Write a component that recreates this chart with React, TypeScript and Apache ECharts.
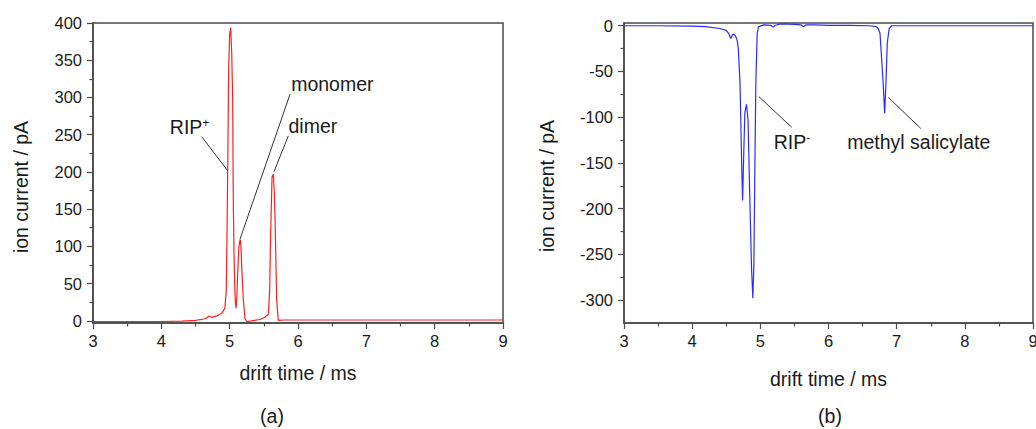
import React, { useEffect, useRef } from 'react';
import * as echarts from 'echarts';

// ---------- data ----------
// (a) positive mode spectrum
const redTime = [
  3.0, 3.5, 4.0, 4.3, 4.5, 4.6, 4.65, 4.7, 4.74, 4.81, 4.885, 4.93, 4.95, 4.96, 4.971, 4.986,
  5.0, 5.015, 5.03, 5.044, 5.053, 5.063, 5.073, 5.083, 5.093, 5.103, 5.112, 5.132, 5.145, 5.156,
  5.168, 5.18, 5.2, 5.224, 5.249, 5.3, 5.44, 5.517, 5.566, 5.585, 5.6, 5.62, 5.639, 5.652, 5.664,
  5.688, 5.712, 5.8, 6.0, 7.0, 8.0, 9.0,
];
const redCurrent = [
  -1, -1, -1, -0.5, 0.5, 2, 3, 6.5, 4.5, 6.5, 10, 17, 40, 110, 201, 341,
  385, 394, 360, 297, 162, 95, 50, 25, 17, 28, 50, 95, 106, 109,
  95, 64, 28, 3, -1, -0.5, 1.7, 4.8, 9, 40, 117, 193, 197, 175, 139,
  27, 0.5, 1, 1, 1, 1, 1,
];

// (b) negative mode spectrum
const blueTime = [
  3.0, 3.5, 4.0, 4.2, 4.4, 4.5, 4.54, 4.565, 4.59, 4.61, 4.64, 4.66, 4.677, 4.702, 4.727, 4.74,
  4.758, 4.773, 4.797, 4.82, 4.846, 4.871, 4.89, 4.905, 4.92, 4.934, 4.954, 4.975, 5.05, 5.15,
  5.19, 5.22, 5.3, 5.5, 5.6, 5.63, 5.67, 5.8, 6.0, 6.3, 6.6, 6.7, 6.73, 6.755, 6.78, 6.805,
  6.824, 6.843, 6.862, 6.89, 6.93, 7.2, 8.0, 9.0,
];
const blueCurrent = [
  0, 0, -0.5, -1, -3, -5, -9, -14, -10, -9, -12, -16, -25, -63, -154, -191,
  -136, -95, -86, -103, -190, -265, -298, -263, -154, -63, -8, -1, 1, 0.5,
  -1.5, 0.5, 2, 1.5, 1, -1, 1, 1, 0.5, 0.5, 0, -1, -3, -8, -37, -67,
  -96, -62, -19, -3, 0, 0, 0, 0,
];

// tick values
const xTicksMin = 3;
const xTicksMax = 9;
const leftYTicks = [0, 50, 100, 150, 200, 250, 300, 350, 400];
const leftYMinor = [25, 75, 125, 175, 225, 275, 325, 375];
const rightYTicks = [0, -50, -100, -150, -200, -250, -300];
const rightYMinor = [-25, -75, -125, -175, -225, -275];

// annotations (data coordinates of each panel)
const annName = ['RIP', 'monomer', 'dimer', 'RIP', 'methyl salicylate'];
const annSup = ['+', '', '', '-', ''];
const annPanel = [0, 0, 0, 1, 1];
const annLabelX = [4.117, 5.893, 5.854, 5.19, 6.267];
const annLabelY = [260.7, 318, 262, -126.8, -126.8];
const annFromX = [4.59, 5.883, 5.858, 5.46, 7.352];
const annFromY = [247.4, 304.3, 248.3, -111.1, -112.2];
const annToX = [4.971, 5.151, 5.649, 4.98, 6.877];
const annToY = [201.6, 109.5, 200.3, -77.6, -78.3];

// ---------- styling ----------
const FONT = '"Liberation Sans", Arial, Helvetica, sans-serif';
const AXIS = '#4a4a4a';
const TXT = '#1a1a1a';
const TICK_FS = 16.5;
const NAME_FS = 19.5;

function xAxis(gridIndex: number, nameGap: number) {
  return {
    type: 'value',
    gridIndex,
    min: xTicksMin,
    max: xTicksMax,
    interval: 1,
    name: 'drift time / ms',
    nameLocation: 'middle',
    nameGap,
    nameTextStyle: { fontSize: NAME_FS, fontFamily: FONT, color: TXT },
    axisLine: { show: true, onZero: false, lineStyle: { color: AXIS, width: 1.5 } },
    axisTick: { show: true, inside: false, length: 6, lineStyle: { color: AXIS, width: 1.2 } },
    minorTick: { show: true, splitNumber: 2, length: 3.5, lineStyle: { color: AXIS, width: 1.2 } },
    axisLabel: { margin: 9, fontSize: TICK_FS, fontFamily: FONT, color: TXT },
    splitLine: { show: false },
    minorSplitLine: { show: false },
  };
}

function yMajor(gridIndex: number, min: number, max: number, ticks: number[]) {
  return {
    type: 'value',
    gridIndex,
    position: 'left',
    min,
    max,
    axisLine: { show: true, onZero: false, lineStyle: { color: AXIS, width: 1.5 } },
    axisTick: { show: true, inside: false, length: 6, customValues: ticks, lineStyle: { color: AXIS, width: 1.2 } },
    axisLabel: { show: true, margin: 11, customValues: ticks, fontSize: TICK_FS, fontFamily: FONT, color: TXT },
    splitLine: { show: false },
  };
}

function yMinor(gridIndex: number, min: number, max: number, ticks: number[]) {
  return {
    type: 'value',
    gridIndex,
    position: 'left',
    offset: 0,
    min,
    max,
    axisLine: { show: false, onZero: false },
    axisTick: { show: true, inside: false, length: 3.5, customValues: ticks, lineStyle: { color: AXIS, width: 1.2 } },
    axisLabel: { show: false },
    splitLine: { show: false },
  };
}

function annotationsFor(panel: number) {
  const lines: any[] = [];
  const points: any[] = [];
  annName.forEach((n, i) => {
    if (annPanel[i] !== panel) return;
    lines.push([{ coord: [annFromX[i], annFromY[i]] }, { coord: [annToX[i], annToY[i]] }]);
    const text = annSup[i] ? `{m|${n}}{s|${annSup[i]}}` : `{m|${n}}`;
    points.push({ coord: [annLabelX[i], annLabelY[i]], label: { formatter: text } });
  });
  return {
    markLine: {
      silent: true,
      symbol: ['none', 'none'],
      label: { show: false },
      lineStyle: { color: '#333333', width: 1, type: 'solid' },
      emphasis: { disabled: true },
      data: lines,
    },
    markPoint: {
      silent: true,
      symbol: 'circle',
      symbolSize: 1,
      itemStyle: { color: 'rgba(0,0,0,0)' },
      label: {
        show: true,
        position: 'right',
        distance: 0,
        color: TXT,
        fontFamily: FONT,
        fontSize: NAME_FS,
        rich: {
          m: { fontSize: NAME_FS, fontFamily: FONT, color: TXT },
          s: { fontSize: 12, fontFamily: FONT, color: TXT, verticalAlign: 'top' },
        },
      },
      data: points,
    },
  };
}

export default function App() {
  const ref = useRef<HTMLDivElement>(null);

  useEffect(() => {
    document.body.style.margin = '0';
    const chart = echarts.init(ref.current!, null, { renderer: 'svg' });
    const option: any = {
      animation: false,
      backgroundColor: '#ffffff',
      textStyle: { fontFamily: FONT },
      grid: [
        { left: 93, top: 23, width: 410, height: 300, show: true, borderColor: AXIS, borderWidth: 1.5, outerBoundsMode: 'none', containLabel: false },
        { left: 624, top: 23, width: 409, height: 300, show: true, borderColor: AXIS, borderWidth: 1.5, outerBoundsMode: 'none', containLabel: false },
      ],
      xAxis: [xAxis(0, 40), xAxis(1, 46)],
      yAxis: [
        yMajor(0, -3, 400, leftYTicks),
        yMinor(0, -3, 400, leftYMinor),
        yMajor(1, -325, 3, rightYTicks),
        yMinor(1, -325, 3, rightYMinor),
      ],
      series: [
        {
          type: 'line',
          xAxisIndex: 0,
          yAxisIndex: 0,
          data: redTime.map((t, i) => [t, redCurrent[i]]),
          symbol: 'none',
          showSymbol: false,
          lineStyle: { color: '#ff1f1f', width: 1.2 },
          itemStyle: { color: '#ff1f1f' },
          emphasis: { disabled: true },
          ...annotationsFor(0),
        },
        {
          type: 'line',
          xAxisIndex: 1,
          yAxisIndex: 2,
          data: blueTime.map((t, i) => [t, blueCurrent[i]]),
          symbol: 'none',
          showSymbol: false,
          lineStyle: { color: '#2b2bff', width: 1.2 },
          itemStyle: { color: '#2b2bff' },
          emphasis: { disabled: true },
          ...annotationsFor(1),
        },
      ],
      graphic: [
        {
          type: 'text', x: 21, y: 187, rotation: Math.PI / 2,
          style: { text: 'ion current / pA', fontSize: NAME_FS, fontFamily: FONT, fill: TXT, align: 'center', verticalAlign: 'middle' },
        },
        {
          type: 'text', x: 547, y: 186, rotation: Math.PI / 2,
          style: { text: 'ion current / pA', fontSize: NAME_FS, fontFamily: FONT, fill: TXT, align: 'center', verticalAlign: 'middle' },
        },
        {
          type: 'text', x: 272, y: 416,
          style: { text: '(a)', fontSize: NAME_FS, fontFamily: FONT, fill: TXT, align: 'center', verticalAlign: 'middle' },
        },
        {
          type: 'text', x: 830, y: 416,
          style: { text: '(b)', fontSize: NAME_FS, fontFamily: FONT, fill: TXT, align: 'center', verticalAlign: 'middle' },
        },
      ],
    };
    chart.setOption(option);
    return () => chart.dispose();
  }, []);

  return <div ref={ref} style={{ width: 1036, height: 429 }} />;
}
